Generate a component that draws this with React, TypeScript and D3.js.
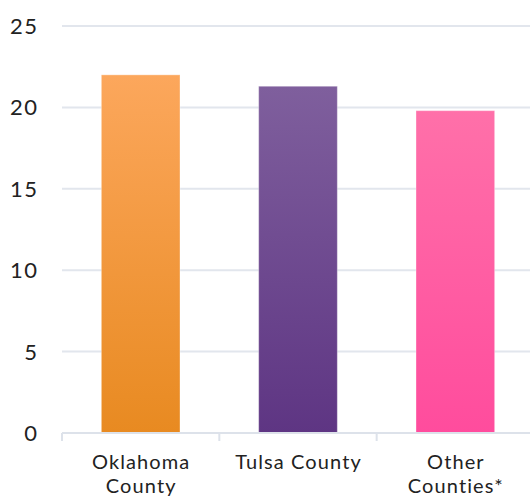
import React from "react";
import * as d3 from "d3";

const categories = ["Oklahoma County", "Tulsa County", "Other Counties*"];
const labelLines = [["Oklahoma", "County"], ["Tulsa County"], ["Other", "Counties*"]];
const values = [22.0, 21.3, 19.8];
const yTicks = [0, 5, 10, 15, 20, 25];
const gradTop = ["#fca75c", "#7f5f9d", "#ff70a9"];
const gradBottom = ["#e88a21", "#5e3583", "#ff4c9d"];

const W = 530, H = 498;
const M = { left: 62, right: -4, top: 26, bottom: 65 };

export default function App() {
  const x = d3.scaleBand<string>().domain(categories).range([M.left, W - M.right]).paddingInner(0.5).paddingOuter(0.25);
  const y = d3.scaleLinear().domain([0, 25]).range([H - M.bottom, M.top]);
  const fullBand = d3.scaleBand<string>().domain(categories).range([M.left, W - M.right]);
  const font = "Lato, 'Open Sans', sans-serif";
  const ls = 1.1;
  return (
    <svg width={W} height={H} style={{ position: "absolute", left: 0, top: 0, background: "#fff" }}>
      <defs>
        {categories.map((c, i) => (
          <linearGradient key={c} id={`g${i}`} x1="0" y1="0" x2="0" y2="1">
            <stop offset="0%" stopColor={gradTop[i]} />
            <stop offset="100%" stopColor={gradBottom[i]} />
          </linearGradient>
        ))}
      </defs>
      {yTicks.map((t) => (
        <g key={t}>
          {t > 0 && <line x1={M.left} x2={W} y1={y(t)} y2={y(t)} stroke="#e2e6ed" strokeWidth={2} />}
          <text x={38.5} y={y(t)} dy="0.36em" textAnchor="end" fontFamily={font} fontSize={22} letterSpacing={1.5} fill="#222">{t}</text>
        </g>
      ))}
      {categories.map((c, i) => (
        <rect key={c} x={x(c)} width={x.bandwidth()} y={y(values[i])} height={y(0) - y(values[i])}
          fill={`url(#g${i})`} stroke="rgba(255,255,255,0.35)" strokeWidth={1} />
      ))}
      <line x1={M.left} x2={W} y1={y(0)} y2={y(0)} stroke="#dde2ea" strokeWidth={2} />
      {categories.map((c) => (
        <line key={c} x1={fullBand(c)} x2={fullBand(c)} y1={y(0)} y2={y(0) + 8} stroke="#dde2ea" strokeWidth={2} />
      ))}
      {categories.map((c, i) => {
        const cx = (x(c) as number) + x.bandwidth() / 2 + ls / 2;
        return (
          <text key={c} x={cx} y={469} textAnchor="middle" fontFamily={font} fontSize={20} letterSpacing={ls} fill="#222">
            {labelLines[i].map((l, k) => (
              <tspan key={k} x={cx} dy={k === 0 ? 0 : 24}>{l}</tspan>
            ))}
          </text>
        );
      })}
    </svg>
  );
}
